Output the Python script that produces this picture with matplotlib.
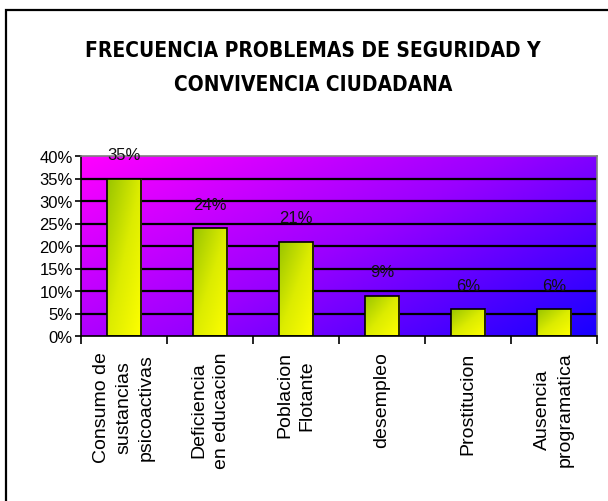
import numpy as np
import matplotlib
matplotlib.use("Agg")
import matplotlib.pyplot as plt
from matplotlib.colors import LinearSegmentedColormap
from matplotlib.patches import Rectangle

categories = ["Consumo de\nsustancias\npsicoactivas",
              "Deficiencia\nen educacion",
              "Poblacion\nFlotante",
              "desempleo",
              "Prostitucion",
              "Ausencia\nprogramatica"]
values = [35, 24, 21, 9, 6, 6]
value_labels = ["35%", "24%", "21%", "9%", "6%", "6%"]
yticks = [0, 5, 10, 15, 20, 25, 30, 35, 40]
ytick_labels = ["0%", "5%", "10%", "15%", "20%", "25%", "30%", "35%", "40%"]
title = "FRECUENCIA PROBLEMAS DE SEGURIDAD Y\nCONVIVENCIA CIUDADANA"

W, H = 608, 502
fig = plt.figure(figsize=(W / 100, H / 100), dpi=100)
fig.patch.set_facecolor("white")

# outer frame (opens off right/bottom)
fig.add_artist(Rectangle((6 / W, -0.1), 1.2, 1 - 11 / H + 0.1, transform=fig.transFigure,
                         fill=False, edgecolor="black", linewidth=1.6))

ax = fig.add_axes([81 / W, 1 - 337 / H, (597 - 81) / W, (337 - 157) / H])
x = np.arange(len(categories))

# background diagonal gradient magenta -> blue
bg_cmap = LinearSegmentedColormap.from_list("bg", ["#ff00ff", "#9a00ff", "#1800ff"])
gx, gy = np.meshgrid(np.linspace(0, 1, 200), np.linspace(0, 1, 200))
grad = (gx * 0.6 + (1 - gy) * 0.4)
ax.imshow(grad, cmap=bg_cmap, extent=[-0.5, len(categories) - 0.5, 40, 0],
          aspect="auto", zorder=0, interpolation="bilinear")

for yv in yticks[1:-1]:
    ax.axhline(yv, color="black", linewidth=1.6, zorder=1)

bars = ax.bar(x, values, width=0.4, color="none", edgecolor="black", linewidth=1.2, zorder=3)
bar_cmap = LinearSegmentedColormap.from_list("bar", ["#98c400", "#dcec00", "#ffff00"])
bgx, bgy = np.meshgrid(np.linspace(0, 1, 50), np.linspace(0, 1, 200))
bgrad = bgx * 0.5 + bgy * 0.5
for b in bars:
    x0, w, h = b.get_x(), b.get_width(), b.get_height()
    im = ax.imshow(bgrad, cmap=bar_cmap, extent=[x0, x0 + w, 0, h], origin="upper",
                   aspect="auto", zorder=2, interpolation="bilinear")
    im.set_clip_path(b)
ax.set_xlim(-0.5, len(categories) - 0.5)
ax.set_ylim(0, 40)

for xi, v, lab in zip(x, values, value_labels):
    ax.annotate(lab, (xi, v), xytext=(0, 14), textcoords="offset points",
                ha="center", va="baseline", fontsize=12, family="Liberation Sans",
                color="#111111", zorder=5, annotation_clip=False)

ax.set_yticks(yticks)
ax.set_yticklabels(ytick_labels, family="Liberation Sans", fontsize=12)
ax.tick_params(axis="y", length=4, width=1.2, pad=2)

ax.set_xticks(np.arange(len(categories) + 1) - 0.5)
ax.set_xticklabels([])
ax.tick_params(axis="x", length=6, width=1.2, direction="out")
for xi, lab in zip(x, categories):
    ax.text(xi, -0.085, lab, transform=ax.get_xaxis_transform(), rotation=90,
            ha="center", va="top", fontsize=14, family="Liberation Sans",
            linespacing=1.4, multialignment="center")

for s in ["left", "bottom"]:
    ax.spines[s].set_color("black")
    ax.spines[s].set_linewidth(1.2)
for s in ["top", "right"]:
    ax.spines[s].set_color("#808080")
    ax.spines[s].set_linewidth(1.2)

fig.text(313 / W, 1 - 68 / H, title, ha="center", va="center", fontsize=15,
         fontweight="bold", fontstretch="condensed", family=["DejaVu Sans"],
         linespacing=1.9)

fig.savefig("out.png", dpi=100, facecolor="white")
